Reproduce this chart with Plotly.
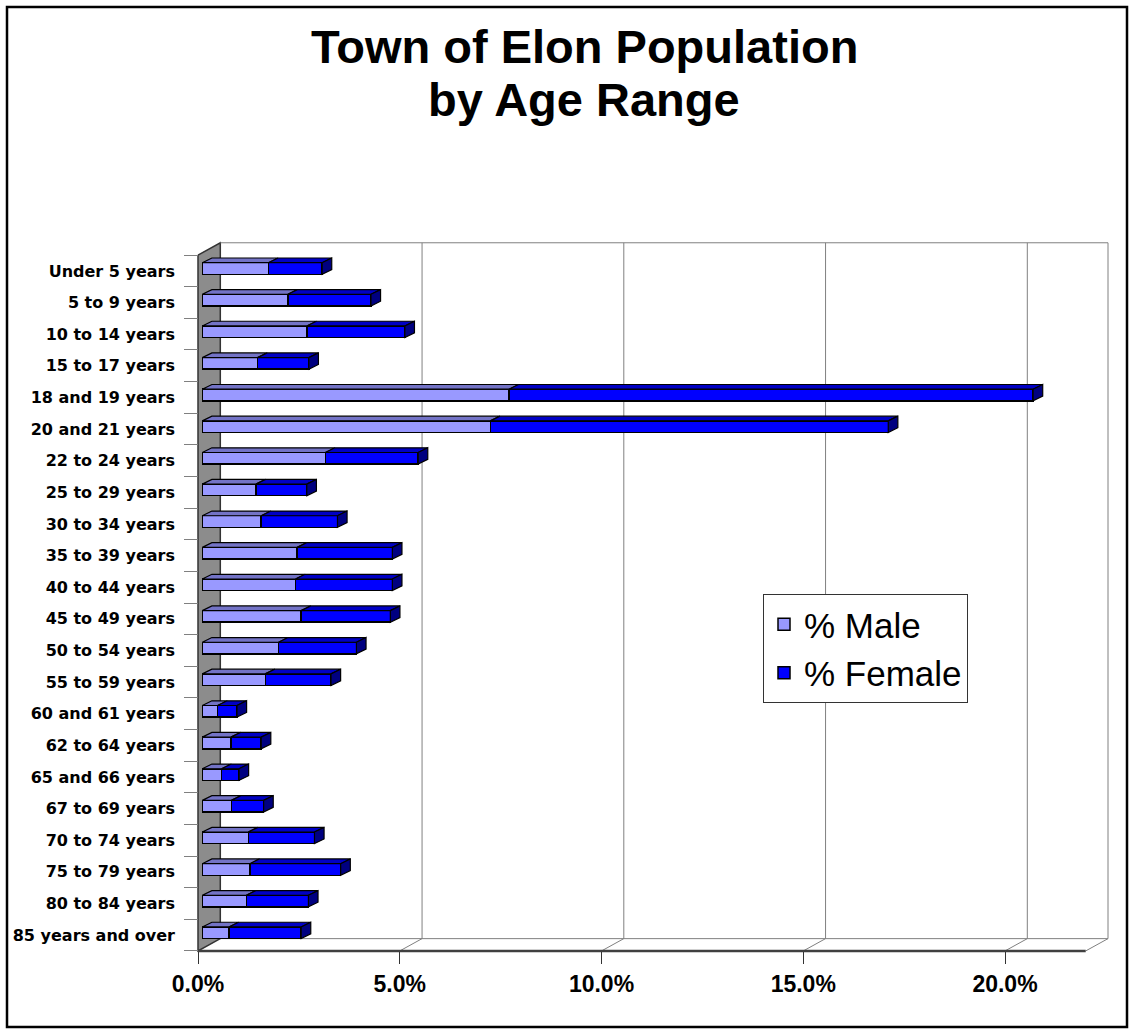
import plotly.graph_objects as go

# ---------------- data ----------------
categories = ["Under 5 years", "5 to 9 years", "10 to 14 years", "15 to 17 years",
              "18 and 19 years", "20 and 21 years", "22 to 24 years", "25 to 29 years",
              "30 to 34 years", "35 to 39 years", "40 to 44 years", "45 to 49 years",
              "50 to 54 years", "55 to 59 years", "60 and 61 years", "62 to 64 years",
              "65 and 66 years", "67 to 69 years", "70 to 74 years", "75 to 79 years",
              "80 to 84 years", "85 years and over"]
male_pct = [1.64, 2.12, 2.59, 1.37, 7.60, 7.14, 3.05, 1.33, 1.46, 2.35, 2.31,
            2.45, 1.89, 1.56, 0.38, 0.71, 0.48, 0.72, 1.14, 1.18, 1.09, 0.66]
female_pct = [1.33, 2.06, 2.43, 1.27, 12.99, 9.86, 2.30, 1.26, 1.89, 2.36, 2.40,
              2.21, 1.93, 1.63, 0.48, 0.75, 0.43, 0.80, 1.64, 2.25, 1.54, 1.79]
tick_values = [0, 5, 10, 15, 20]
tick_labels = ["0.0%", "5.0%", "10.0%", "15.0%", "20.0%"]
axis_max = 22
series_names = ["% Male", "% Female"]

# ---------------- geometry / style ----------------
W, H = 1131, 1030
PX_PCT = 40.35          # pixels per 1 %
PX_CAT = 31.63          # pixels per category row
FRONT_X0 = 198.0        # pixel of 0 % on the front floor edge
FRONT_CY0 = 270.9       # pixel of first category centre on the front plane
BAR_SHIFT = (4.3, -2.4)     # bar front face relative to front plane (px)
DEPTH = (22.3, -12.3)       # full depth of the 3D box (px)
BAR_DEPTH = (9.6, -4.7)     # depth of each bar (px)
BAR_H = 11.6                # bar thickness (px)

n = len(categories)
idx = list(range(n))
total_pct = [m + f for m, f in zip(male_pct, female_pct)]


def xr(x0px):
    return [-x0px / PX_PCT, (W - x0px) / PX_PCT]


def yr(cy0px):
    return [(H - cy0px) / PX_CAT, -cy0px / PX_CAT]


Dx, Dy = DEPTH[0] / PX_PCT, DEPTH[1] / PX_CAT
bdx, bdy = BAR_DEPTH[0] / PX_PCT, BAR_DEPTH[1] / PX_CAT
bw = BAR_H / PX_CAT
h = bw / 2
top, bot = -0.5, n - 0.5

GRID = "#808080"
MALE_FRONT, MALE_TOP = "#9999FF", "#7373C6"
FEM_FRONT, FEM_TOP, FEM_SIDE = "#0000FF", "#0000C4", "#000080"
EDGE = "#000000"

fig = go.Figure()

# ---- left wall ----
fig.add_trace(go.Scatter(
    x=[0, Dx, Dx, 0, 0], y=[top, top + Dy, bot + Dy, bot, top],
    mode="lines", fill="toself", fillcolor="#8C8C8C",
    line=dict(color="#333333", width=1.5), showlegend=False, hoverinfo="skip"))

# ---- back wall outline, gridlines and floor ----
gx, gy = [], []
for t in tick_values[1:] + [axis_max]:
    gx += [t + Dx, t + Dx, None, t, t + Dx, None]
    gy += [top + Dy, bot + Dy, None, bot, bot + Dy, None]
gx += [Dx, axis_max + Dx, None, Dx, axis_max + Dx, None]
gy += [top + Dy, top + Dy, None, bot + Dy, bot + Dy, None]
fig.add_trace(go.Scatter(x=gx, y=gy, mode="lines", line=dict(color=GRID, width=1),
                         showlegend=False, hoverinfo="skip"))
fig.add_trace(go.Scatter(x=[0, axis_max], y=[bot, bot], mode="lines",
                         line=dict(color="#404040", width=2.5),
                         showlegend=False, hoverinfo="skip"))

# ---- bars (front faces) ----
fig.add_trace(go.Bar(
    y=idx, x=male_pct, orientation="h", name=series_names[0], width=bw,
    marker=dict(color=MALE_FRONT, line=dict(color=EDGE, width=1.5)),
    xaxis="x2", yaxis="y2", legendgroup="m"))
fig.add_trace(go.Bar(
    y=idx, x=female_pct, orientation="h", name=series_names[1], width=bw,
    marker=dict(color=FEM_FRONT, line=dict(color=EDGE, width=1.5)),
    xaxis="x2", yaxis="y2", legendgroup="f"))


# ---- 3D faces of bars ----
def faces(starts, ends):
    xs, ys = [], []
    for i, (a, b) in enumerate(zip(starts, ends)):
        yt = i - h
        xs += [a, b, b + bdx, a + bdx, a, None]
        ys += [yt, yt, yt + bdy, yt + bdy, yt, None]
    return xs, ys


mx, my = faces([0] * n, male_pct)
fx, fy = faces(male_pct, total_pct)
sx, sy = [], []
for i, t in enumerate(total_pct):
    sx += [t, t + bdx, t + bdx, t, t, None]
    sy += [i - h, i - h + bdy, i + h + bdy, i + h, i - h, None]

for xs, ys, col in [(mx, my, MALE_TOP), (fx, fy, FEM_TOP), (sx, sy, FEM_SIDE)]:
    fig.add_trace(go.Scatter(x=xs, y=ys, mode="lines", fill="toself", fillcolor=col,
                             line=dict(color=EDGE, width=1.2), xaxis="x2", yaxis="y2",
                             showlegend=False, hoverinfo="skip"))

# ---- title ----
TITLE_FONT = dict(family="Arial, Liberation Sans, sans-serif", size=47, color="black", weight="bold")
fig.add_annotation(text="Town of Elon Population", x=584 / W, y=1 - 47 / H, xref="paper",
                   yref="paper", showarrow=False, xanchor="center", yanchor="middle",
                   font=TITLE_FONT)
fig.add_annotation(text="by Age Range", x=584 / W, y=1 - 99 / H, xref="paper",
                   yref="paper", showarrow=False, xanchor="center", yanchor="middle",
                   font=TITLE_FONT)

# ---- outer border ----
fig.add_shape(type="rect", xref="paper", yref="paper", x0=7 / W, x1=1127 / W,
              y0=1 - 1027 / H, y1=1 - 7 / H, line=dict(color="black", width=2.5))

fig.update_layout(
    width=W, height=H, autosize=False, margin=dict(l=0, r=0, t=0, b=0),
    paper_bgcolor="white", plot_bgcolor="rgba(0,0,0,0)",
    barmode="stack", showlegend=True, hovermode=False,
    legend=dict(x=763 / W, y=1 - 594 / H, xanchor="left", yanchor="top",
                bgcolor="white", bordercolor="#333333", borderwidth=1,
                font=dict(family="Arial, Liberation Sans, sans-serif", size=35, color="black"),
                tracegroupgap=0, traceorder="normal", itemwidth=30),
    xaxis=dict(domain=[0, 1], range=xr(FRONT_X0), anchor="free",
               position=1 - (FRONT_CY0 + (bot - 0) * PX_CAT) / H,
               tickvals=tick_values, ticktext=tick_labels, ticks="outside", ticklen=12,
               tickcolor="#333333", tickwidth=1, showgrid=False, zeroline=False, showline=False,
               tickfont=dict(family="Arial, Liberation Sans, sans-serif", size=23,
                             color="black", weight="bold")),
    yaxis=dict(domain=[0, 1], range=yr(FRONT_CY0), anchor="free", position=FRONT_X0 / W,
               tickvals=idx, ticktext=categories, ticks="", showgrid=False, zeroline=False,
               showline=False, ticklabelstandoff=23,
               tickfont=dict(family="DejaVu Sans, sans-serif", size=16, color="black",
                             weight="bold"),
               minor=dict(tickvals=[i - 0.5 for i in range(n + 1)], ticks="outside",
                          ticklen=14, tickcolor=GRID, tickwidth=1, showgrid=False)),
    xaxis2=dict(overlaying="x", anchor="y2", range=xr(FRONT_X0 + BAR_SHIFT[0]), visible=False),
    yaxis2=dict(overlaying="y", anchor="x2", range=yr(FRONT_CY0 + BAR_SHIFT[1]), visible=False),
)

fig.write_html("out.html")
